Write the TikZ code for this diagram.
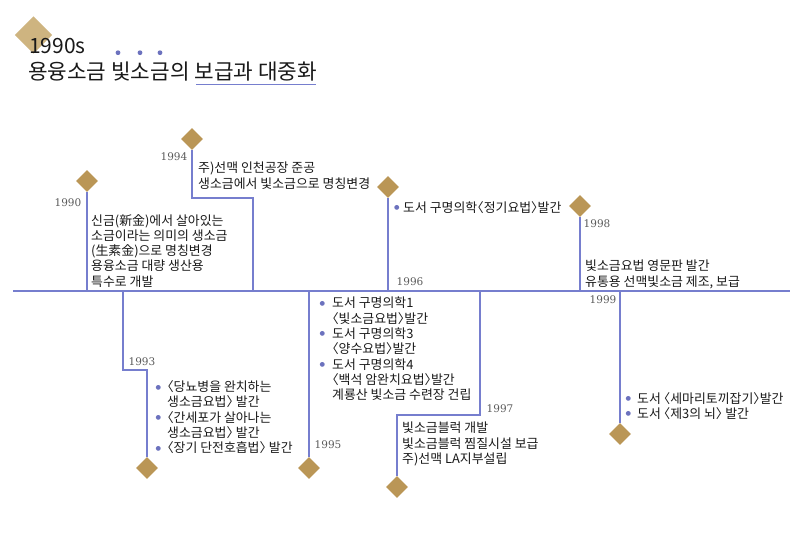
\documentclass[tikz,border=0pt]{standalone}
\usepackage{fontspec}
\usepackage{xcolor}
\setmainfont{Noto Sans CJK KR}[RawFeature=+halt]
\newfontfamily\yrfont{DejaVu Serif}
\newfontfamily\dvfont{DejaVu Sans}
\definecolor{lineblue}{RGB}{118,126,206}
\definecolor{bulc}{RGB}{108,114,190}
\definecolor{tan}{RGB}{186,150,86}
\definecolor{tanlight}{RGB}{206,180,128}
\definecolor{txtc}{RGB}{25,25,25}
\definecolor{yrc}{RGB}{90,90,90}
\newcommand\bul[1][6]{\llap{\raisebox{2.6pt}{\textcolor{bulc}{\dvfont\fontsize{6.3}{6}\selectfont ●}}\hspace{#1pt}}}
\begin{document}
\begin{tikzpicture}[x=1pt,y=-1pt,
  dia/.style={rectangle,rotate=45,minimum size=15.5pt,inner sep=0pt,fill=tan},
  tl/.style={draw=lineblue,line width=1.15pt},
  yr/.style={font=\yrfont\fontsize{10.5}{12}\selectfont,text=yrc,inner sep=0pt},
  txt/.style={font=\fontsize{12.9}{15.3}\selectfont,text=txtc,align=left,anchor=north west,inner sep=0pt}]
\useasboundingbox (0,0) rectangle (800,544);

% title
\node[rectangle,rotate=45,minimum size=26.5pt,inner sep=0pt,fill=tanlight] (tdia) at (33.5,35) {};
\node[anchor=base west,inner sep=0pt,font=\fontsize{21}{24}\selectfont,text=txtc] (t1) at (29,53) {1990s};
\node[anchor=base west,inner sep=0pt,font=\fontsize{21.3}{24}\selectfont,text=txtc] (t2) at (28,79) {용융소금 빛소금의 보급과 대중화};
\coordinate (ul1) at (196,84);
\coordinate (ul2) at (316,84);
\draw[lineblue,line width=1pt] (ul1) -- (ul2);
\fill[bulc] (118,52.7) circle (2.4) (140,52.7) circle (2.4) (160,52.7) circle (2.4);

% axis
\coordinate (axL) at (13,291);
\coordinate (axR) at (790,291);
\draw[tl] (axL) -- (axR);

% 1990
\node[dia] (d90) at (87,181) {};
\draw[tl] (d90.south west) -- (d90.south west |- axL);
\node[yr] (y90) at (68,203) {1990};
\node[txt] (x90) at (91,214) {신금(新金)에서 살아있는\\소금이라는 의미의 생소금\\(生素金)으로 명칭변경\\용융소금 대량 생산용\\특수로 개발};

% 1994
\node[dia] (d94) at (192,139) {};
\coordinate (s94) at (253,198);
\draw[tl] (d94.south west) |- (s94) -- (s94 |- axL);
\node[yr] (y94) at (174,157) {1994};
\node[txt] (x94) at (198,162) {주)선맥 인천공장 준공\\생소금에서 빛소금으로 명칭변경};

% 1996
\node[dia] (d96) at (388,187) {};
\draw[tl] (d96.south west) -- (d96.south west |- axL);
\node[yr] (y96) at (410,282) {1996};
\node[txt] (x96) at (403,201) {\bul[3.5]도서 구명의학〈정기요법〉발간};

% 1998
\node[dia] (d98) at (580,206) {};
\draw[tl] (d98.south west) -- (d98.south west |- axL);
\node[yr] (y98) at (597,224) {1998};
\node[txt] (x98) at (585,260) {빛소금요법 영문판 발간\\유통용 선맥빛소금 제조, 보급};

% 1993
\node[dia] (d93) at (147,468) {};
\coordinate (s93) at (123,370);
\draw[tl] (s93 |- axL) -- (s93) -| (d93.north east);
\node[yr] (y93) at (142,362) {1993};
\node[txt] (x93) at (167,380.5) {\bul〈당뇨병을 완치하는\\생소금요법〉 발간\\\bul〈간세포가 살아나는\\생소금요법〉 발간\\\bul〈장기 단전호흡법〉 발간};

% 1995
\node[dia] (d95) at (309,468) {};
\draw[tl] (d95.north east |- axL) -- (d95.north east);
\node[yr] (y95) at (328,445) {1995};
\node[txt] (x95) at (332,297) {\bul[7]도서 구명의학1\\〈빛소금요법〉발간\\\bul[7]도서 구명의학3\\〈양수요법〉발간\\\bul[7]도서 구명의학4\\〈백석 암완치요법〉발간\\계룡산 빛소금 수련장 건립};

% 1997
\node[dia] (d97) at (397,487) {};
\coordinate (s97) at (480,415);
\draw[tl] (s97 |- axL) -- (s97) -| (d97.north east);
\node[yr] (y97) at (500,409) {1997};
\node[txt] (x97) at (402,422) {빛소금블럭 개발\\빛소금블럭 찜질시설 보급\\주)선맥 LA지부설립};

% 1999
\node[dia] (d99) at (620,434) {};
\draw[tl] (d99.north east |- axL) -- (d99.north east);
\node[yr] (y99) at (603,300) {1999};
\node[txt] (x99) at (637,392) {\bul 도서 〈세마리토끼잡기〉발간\\\bul 도서 〈제3의 뇌〉 발간};
\end{tikzpicture}
\end{document}
